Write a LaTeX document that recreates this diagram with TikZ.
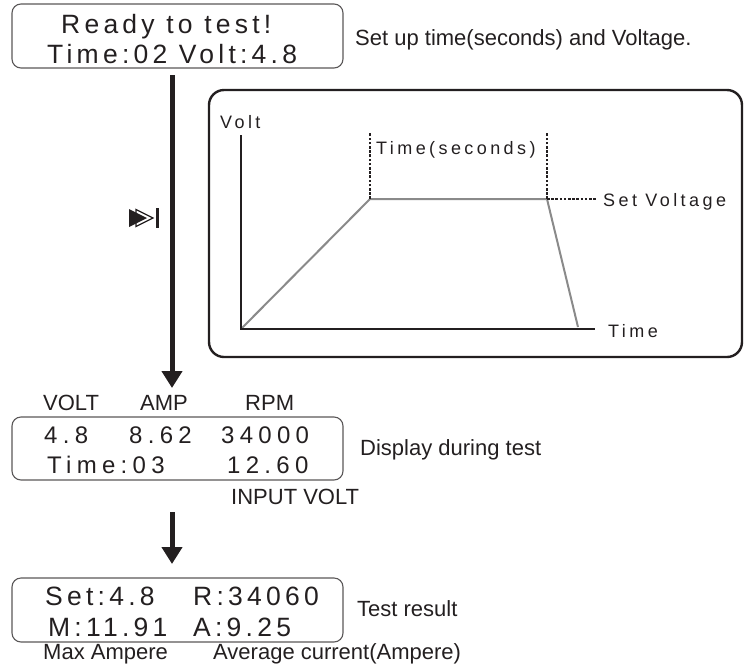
\documentclass[tikz,border=0pt]{standalone}
\usepackage{fontspec}
\setmainfont{Liberation Sans}
\newfontfamily\lcdfont[LetterSpace=16]{Liberation Sans}
\newfontfamily\lcdwide[LetterSpace=22]{Liberation Sans}
\newfontfamily\plotfont[LetterSpace=19]{Liberation Sans}
\usepackage{tikz}
\usetikzlibrary{arrows.meta,calc}

\definecolor{ink}{HTML}{231F20}
\definecolor{ramp}{HTML}{8A8A8A}

\tikzset{
    lcdbox/.style = {draw=ink!75, line width=1.1pt, rounded corners=9pt, minimum width=331pt, inner sep=0pt},
    lcdtext/.style = {anchor=base west, inner sep=0pt, text=ink, font=\lcdfont\fontsize{26.5}{30}\selectfont},
    lcdsmall/.style = {lcdtext, font=\lcdwide\fontsize{24}{28}\selectfont},
    note/.style = {anchor=base west, inner sep=0pt, text=ink, font=\fontsize{22}{26}\selectfont},
    plotlabel/.style = {anchor=base west, inner sep=0pt, text=ink, font=\plotfont\fontsize{18}{22}\selectfont},
    flow/.style = {draw=ink, line width=5pt, -{Triangle[width=20pt,length=17pt]}},
    guide/.style = {draw=ink, line width=2.6pt, dash pattern=on 2.6pt off 1.6pt},
}

\begin{document}
\begin{tikzpicture}[x=1pt, y=-1pt]
        \useasboundingbox (0,0) rectangle (745,665);

        \coordinate (ready) at (177.5,36);
        \coordinate (during) at (177.5,448.5);
        \coordinate (result) at (177.5,610);
        \coordinate (chart) at (475.5,223.5);
        \coordinate (go_top) at (172,75);
        \coordinate (go_end) at (172,388);
        \coordinate (done_top) at (172,512);
        \coordinate (done_end) at (172,564);

        % LCD screens
        \node[lcdbox, minimum height = 64pt] (Ready) at (ready) {};
        \node[lcdbox, minimum height = 63pt] (During) at (during) {};
        \node[lcdbox, minimum height = 64pt] (Result) at (result) {};

        \node[lcdtext] (ReadyA) at (61,33) {Ready to test!};
        \node[lcdtext] (ReadyB) at (47,63) {Time:02 Volt:4.8};
        \node[note] (ReadyNote) at (355,45) {Set up time(seconds) and Voltage.};

        \node[note] (VoltHead) at (43,410) {VOLT};
        \node[note] (AmpHead) at (140,410) {AMP};
        \node[note] (RpmHead) at (245,410) {RPM};
        \node[lcdsmall] (Volt) at (44,443) {4.8};
        \node[lcdsmall] (Amp) at (129,443) {8.62};
        \node[lcdsmall] (Rpm) at (221,443) {34000};
        \node[lcdsmall] (Clock) at (47,473) {Time:03};
        \node[lcdsmall] (Input) at (227,473) {12.60};
        \node[note] (InputNote) at (231,504) {INPUT VOLT};
        \node[note] (DuringNote) at (360,455) {Display during test};

        \node[lcdtext] (SetV) at (45,605) {Set:4.8};
        \node[lcdtext] (Rev) at (193,605) {R:34060};
        \node[lcdtext] (MaxA) at (48,636) {M:11.91};
        \node[lcdtext] (AvgA) at (193,636) {A:9.25};
        \node[note] (ResultNote) at (357,616) {Test result};
        \node[note] (MaxNote) at (43,659) {Max Ampere};
        \node[note] (AvgNote) at (213,659) {Average current(Ampere)};

        % flow arrows
        \path[flow] (go_top) -- (go_end);
        \path[flow] (done_top) -- (done_end);

        % start key
        \path[draw=ink, fill=white, line width=1.3pt, line join=miter] (136,209.5) -- (153,218) -- (136,226.5) -- cycle;
        \path[fill=ink] (129,209) -- (147,218) -- (129,227) -- cycle;
        \path[fill=ink] (155.5,208) rectangle (158.5,228);

        % voltage profile
        \node[draw=ink, line width=2.4pt, rounded corners=15pt, minimum width = 533pt, minimum height = 267pt] (Chart) at (chart) {};
        \coordinate (orig) at (241,329);
        \coordinate (ytop) at (241,135);
        \coordinate (xend) at (595,329);
        \coordinate (rise) at (370,199);
        \coordinate (hold) at (547,199);
        \coordinate (fall) at (578,327);

        \path[draw=ramp, line width=2pt, line join=round] (orig) -- (rise) -- (hold) -- (fall);
        \path[draw=ink, line width=2pt] (ytop) -- (orig) -- (xend);
        \path[guide] (rise) -- ($(rise)+(0,-67)$);
        \path[guide] (hold) -- ($(hold)+(0,-67)$);
        \path[guide] (hold) -- ($(hold)+(50,0)$);

        \node[plotlabel] (VoltAxis) at (220,128) {Volt};
        \node[plotlabel] (TimeAxis) at (608,337) {Time};
        \node[plotlabel] (Span) at (376,154) {Time(seconds)};
        \node[plotlabel] (Level) at (603,206) {Set Voltage};
    \end{tikzpicture}
\end{document}
